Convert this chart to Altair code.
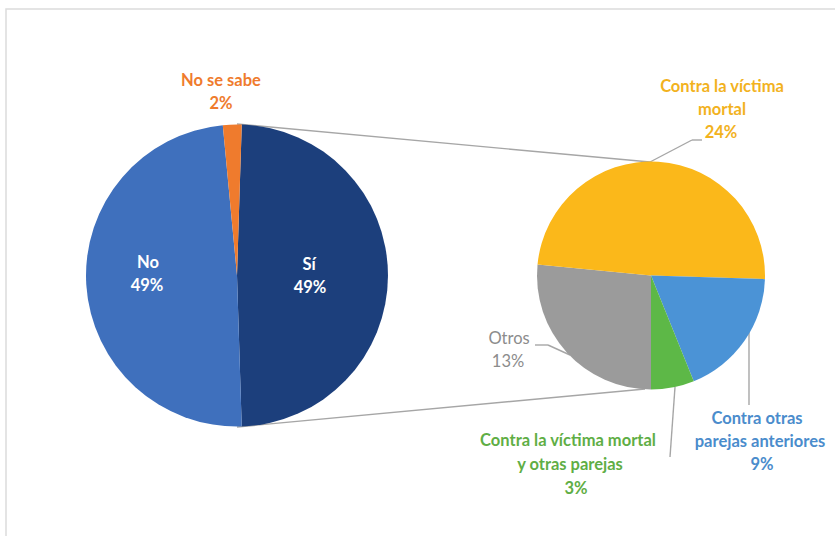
import math
import altair as alt
import pandas as pd

# ---- data ----
left_labels = ["Sí", "No", "No se sabe"]
left_values = [49, 49, 2]
left_colors = ["#1c3f7c", "#3f70bd", "#ef7b2d"]

right_labels = ["Otros", "Contra la víctima mortal", "Contra otras parejas anteriores",
                "Contra la víctima mortal y otras parejas"]
right_values = [13, 24, 9, 3]
right_colors = ["#9b9b9b", "#fbb81a", "#4b93d6", "#5db847"]

# ---- layout (pixels) ----
W, H = 835, 536
FONT = "Lato, Open Sans, sans-serif"
FS = 16.5
LC = (237, 275.5, 151)   # left pie centre x, y, radius
RC = (651, 275.5, 114)   # right pie centre x, y, radius
left_start = math.pi / 2 - math.pi * left_values[0] / sum(left_values)
right_start = math.pi

df_left = pd.DataFrame({"label": left_labels, "value": left_values,
                        "color": left_colors, "ord": list(range(len(left_labels)))})
df_right = pd.DataFrame({"label": right_labels, "value": right_values,
                         "color": right_colors, "ord": list(range(len(right_labels)))})

def pct(v):
    return f"{v}%"

bold_rows = [
    ("No se sabe", 221, 81, "#ef7b2d"), (pct(left_values[2]), 221, 104, "#ef7b2d"),
    ("No", 148, 263, "#ffffff"), (pct(left_values[1]), 147, 286, "#ffffff"),
    ("Sí", 309, 265, "#ffffff"), (pct(left_values[0]), 310, 288, "#ffffff"),
    ("Contra la víctima", 722, 87, "#f2b21e"), ("mortal", 722, 110, "#f2b21e"),
    (pct(right_values[1]), 721, 133, "#f2b21e"),
    ("Contra otras", 757, 419, "#4a8ccc"), ("parejas anteriores", 760, 442, "#4a8ccc"),
    (pct(right_values[2]), 762, 465, "#4a8ccc"),
    ("Contra la víctima mortal", 568, 441, "#5fae45"), ("y otras parejas", 570, 465, "#5fae45"),
    (pct(right_values[3]), 576, 489, "#5fae45"),
]
reg_rows = [
    ("Otros", 509, 339, "#8c8c8c"), (pct(right_values[0]), 508, 362, "#8c8c8c"),
]
df_bold = pd.DataFrame(bold_rows, columns=["text", "x", "y", "color"])
df_reg = pd.DataFrame(reg_rows, columns=["text", "x", "y", "color"])

segs = [
    (237, 124, 650, 162), (237, 427, 645, 389),        # connectors
    (650, 162, 692, 140), (692, 140, 702, 140),        # 24% leader
    (535, 345, 548, 345), (548, 345, 570, 355),        # Otros leader
    (749, 332, 749, 405),                              # 9% leader
    (675, 387, 670, 457),                              # 3% leader
]
df_seg = pd.DataFrame(segs, columns=["x", "y", "x2", "y2"])
df_frame = pd.DataFrame([(6, 9, 845, 545)], columns=["x", "y", "x2", "y2"])

X = lambda f: alt.X(f, scale=None, axis=None)
Y = lambda f: alt.Y(f, scale=None, axis=None)

frame = alt.Chart(df_frame).mark_rect(fill="#ffffff", stroke="#dcdcdc", strokeWidth=1.5).encode(
    x=X("x:Q"), y=Y("y:Q"), x2="x2:Q", y2="y2:Q")

left = alt.Chart(df_left).mark_arc(outerRadius=LC[2]).encode(
    theta=alt.Theta("value:Q", stack=True,
                    scale=alt.Scale(range=[left_start, left_start + 2 * math.pi])),
    order=alt.Order("ord:Q"),
    color=alt.Color("color:N", scale=None),
    x=alt.value(LC[0]), y=alt.value(LC[1]))

right = alt.Chart(df_right).mark_arc(outerRadius=RC[2]).encode(
    theta=alt.Theta("value:Q", stack=True,
                    scale=alt.Scale(range=[right_start, right_start + 2 * math.pi])),
    order=alt.Order("ord:Q"),
    color=alt.Color("color:N", scale=None),
    x=alt.value(RC[0]), y=alt.value(RC[1]))

lines = alt.Chart(df_seg).mark_rule(color="#a6a6a6", strokeWidth=1.4).encode(
    x=X("x:Q"), y=Y("y:Q"), x2="x2:Q", y2="y2:Q")

tbold = alt.Chart(df_bold).mark_text(font=FONT, fontSize=FS, fontWeight="bold",
                                     align="center", baseline="middle").encode(
    x=X("x:Q"), y=Y("y:Q"), text="text:N", color=alt.Color("color:N", scale=None))
treg = alt.Chart(df_reg).mark_text(font=FONT, fontSize=FS, fontWeight="normal",
                                   align="center", baseline="middle").encode(
    x=X("x:Q"), y=Y("y:Q"), text="text:N", color=alt.Color("color:N", scale=None))

chart = alt.layer(frame, lines, left, right, tbold, treg).resolve_scale(
    theta="independent").properties(
    width=W, height=H, padding=0, autosize=alt.AutoSizeParams(type="none"),
    background="#ffffff").configure_view(stroke=None)

chart.save("out.html", embed_options={"renderer": "svg", "actions": False})
